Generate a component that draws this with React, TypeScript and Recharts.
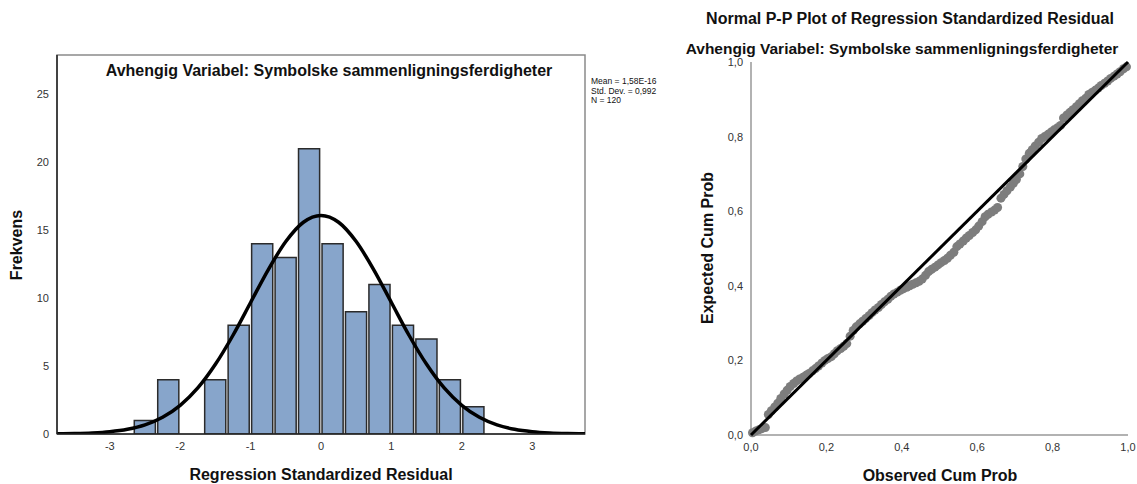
import React from 'react';
import {
    ComposedChart,
    ScatterChart,
    Bar,
    Line,
    Scatter,
    XAxis,
    YAxis,
    ZAxis,
    ReferenceArea
} from 'recharts';

// Histogram of residuals (bin width 1/3)
const binCenters = [-2.5, -2.167, -1.833, -1.5, -1.167, -0.833, -0.5, -0.167, 0.167, 0.5, 0.833, 1.167, 1.5, 1.833, 2.167];
const binCounts = [1, 4, 0, 4, 8, 14, 13, 21, 14, 9, 11, 8, 7, 4, 2];

// Normal curve
const curveX = [-3.75, -3.5, -3.25, -3, -2.75, -2.5, -2.25, -2, -1.75, -1.5, -1.25, -1, -0.75, -0.5, -0.25, 0,
    0.25, 0.5, 0.75, 1, 1.25, 1.5, 1.75, 2, 2.25, 2.5, 2.75, 3, 3.25, 3.5, 3.75];
const curveY = [0.013, 0.032, 0.075, 0.166, 0.345, 0.67, 1.23, 2.11, 3.39, 5.13, 7.27, 9.68, 12.09, 14.17, 15.59, 16.09,
    15.59, 14.17, 12.09, 9.68, 7.27, 5.13, 3.39, 2.11, 1.23, 0.67, 0.345, 0.166, 0.075, 0.032, 0.013];

const histTicksX = [-3, -2, -1, 0, 1, 2, 3];
const histTicksY = [0, 5, 10, 15, 20, 25];

// P-P plot: observed vs expected cumulative probability
const observedCum = [
    0.004, 0.013, 0.021, 0.029, 0.038, 0.046, 0.054, 0.063, 0.071, 0.079,
    0.088, 0.096, 0.104, 0.113, 0.121, 0.129, 0.138, 0.146, 0.154, 0.163,
    0.171, 0.179, 0.188, 0.196, 0.204, 0.213, 0.221, 0.229, 0.238, 0.246,
    0.254, 0.263, 0.271, 0.279, 0.288, 0.296, 0.304, 0.313, 0.321, 0.329,
    0.338, 0.346, 0.354, 0.363, 0.371, 0.379, 0.388, 0.396, 0.404, 0.413,
    0.421, 0.429, 0.438, 0.446, 0.454, 0.463, 0.471, 0.479, 0.488, 0.496,
    0.504, 0.513, 0.521, 0.529, 0.538, 0.546, 0.554, 0.563, 0.571, 0.579,
    0.588, 0.596, 0.604, 0.613, 0.621, 0.629, 0.638, 0.646, 0.654, 0.663,
    0.671, 0.679, 0.688, 0.696, 0.704, 0.713, 0.721, 0.729, 0.738, 0.746,
    0.754, 0.763, 0.771, 0.779, 0.788, 0.796, 0.804, 0.813, 0.821, 0.829,
    0.838, 0.846, 0.854, 0.863, 0.871, 0.879, 0.888, 0.896, 0.904, 0.913,
    0.921, 0.929, 0.938, 0.946, 0.954, 0.963, 0.971, 0.979, 0.988, 0.996
];
const expectedCum = [
    0.006, 0.011, 0.014, 0.017, 0.020, 0.055, 0.065, 0.075, 0.085, 0.098,
    0.110, 0.120, 0.130, 0.138, 0.145, 0.150, 0.155, 0.160, 0.165, 0.172,
    0.178, 0.185, 0.193, 0.200, 0.205, 0.210, 0.218, 0.226, 0.232, 0.238,
    0.245, 0.265, 0.280, 0.290, 0.298, 0.305, 0.312, 0.320, 0.328, 0.335,
    0.342, 0.350, 0.357, 0.364, 0.372, 0.378, 0.383, 0.388, 0.392, 0.396,
    0.400, 0.404, 0.408, 0.412, 0.418, 0.428, 0.438, 0.444, 0.450, 0.456,
    0.462, 0.468, 0.474, 0.482, 0.490, 0.505, 0.512, 0.520, 0.528, 0.535,
    0.543, 0.550, 0.560, 0.572, 0.585, 0.592, 0.598, 0.603, 0.610, 0.635,
    0.645, 0.655, 0.665, 0.675, 0.685, 0.700, 0.720, 0.740, 0.755, 0.765,
    0.775, 0.785, 0.795, 0.800, 0.806, 0.812, 0.818, 0.824, 0.830, 0.850,
    0.858, 0.865, 0.872, 0.880, 0.888, 0.896, 0.903, 0.913, 0.918, 0.924,
    0.930, 0.937, 0.943, 0.949, 0.956, 0.962, 0.968, 0.974, 0.982, 0.987
];
const ppTicks = [0, 0.2, 0.4, 0.6, 0.8, 1];
const diagonal = [0, 1];

const FONT = '"Liberation Sans", Arial, sans-serif';
const X_DOMAIN: [number, number] = [-3.75, 3.75];
const Y_MAX = 27.9;
const LEFT_PLOT_W = 528;
const BIN_W = 1 / 3;

const histData = binCenters.map((x, i) => ({ x, count: binCounts[i] }));
const curveData = curveX.map((x, i) => ({ x, y: curveY[i] }));
const ppData = observedCum.map((x, i) => ({ x, y: expectedCum[i] }));
const diagData = diagonal.map(v => ({ x: v, y: v }));

const tickStyle = { fill: '#333', fontSize: 11, fontFamily: FONT };
const comma = (v: number) => v.toFixed(1).replace('.', ',');

const Txt: React.FC<{ x: number; y: number; size?: number; rotate?: boolean; children: React.ReactNode }> =
    ({ x, y, size = 16, rotate, children }) => (
        <div
            style={{
                position: 'absolute',
                left: x,
                top: y,
                transform: `translate(-50%, -50%)${rotate ? ' rotate(-90deg)' : ''}`,
                whiteSpace: 'nowrap',
                fontSize: size,
                fontWeight: 'bold',
                color: '#111',
                fontFamily: FONT
            }}
        >
            {children}
        </div>
    );

export default function App() {
    const barSize = (LEFT_PLOT_W / (X_DOMAIN[1] - X_DOMAIN[0])) * BIN_W;

    return (
        <div style={{ position: 'absolute', left: 0, top: 0, width: 1137, height: 484, background: '#fff', fontFamily: FONT }}>
            <div style={{ position: 'absolute', left: 0, top: 0 }}>
                <ComposedChart width={600} height={484} data={histData} margin={{ top: 55, right: 15, bottom: 20, left: 0 }}>
                    <XAxis
                        xAxisId="bins"
                        dataKey="x"
                        type="number"
                        domain={X_DOMAIN}
                        ticks={histTicksX}
                        allowDataOverflow
                        height={30}
                        tick={tickStyle}
                        tickLine={false}
                        axisLine={{ stroke: '#222', strokeWidth: 1.5 }}
                    />
                    <XAxis xAxisId="curve" dataKey="x" type="number" domain={X_DOMAIN} allowDataOverflow hide />
                    <YAxis
                        type="number"
                        domain={[0, Y_MAX]}
                        ticks={histTicksY}
                        allowDataOverflow
                        width={57}
                        tick={tickStyle}
                        tickLine={false}
                        axisLine={{ stroke: '#222', strokeWidth: 1.5 }}
                    />
                    <ReferenceArea
                        xAxisId="bins"
                        x1={X_DOMAIN[0]}
                        x2={X_DOMAIN[1]}
                        y1={0}
                        y2={Y_MAX}
                        fill="none"
                        stroke="#8a8a8a"
                        strokeWidth={1.5}
                    />
                    <Bar
                        xAxisId="bins"
                        dataKey="count"
                        barSize={barSize}
                        fill="#87a5cb"
                        stroke="#2b2b2b"
                        strokeWidth={1.5}
                        isAnimationActive={false}
                    />
                    <Line
                        xAxisId="curve"
                        data={curveData}
                        dataKey="y"
                        type="monotone"
                        stroke="#000"
                        strokeWidth={3.5}
                        dot={false}
                        activeDot={false}
                        isAnimationActive={false}
                    />
                </ComposedChart>
            </div>

            <div style={{ position: 'absolute', left: 690, top: 0 }}>
                <ScatterChart width={447} height={484} margin={{ top: 62, right: 9, bottom: 19, left: 0 }}>
                    <XAxis
                        dataKey="x"
                        type="number"
                        domain={[0, 1]}
                        ticks={ppTicks}
                        tickFormatter={comma}
                        height={30}
                        tick={tickStyle}
                        tickLine={false}
                        axisLine={{ stroke: '#999', strokeWidth: 1.5 }}
                    />
                    <YAxis
                        dataKey="y"
                        type="number"
                        domain={[0, 1]}
                        ticks={ppTicks}
                        tickFormatter={comma}
                        width={61}
                        tick={tickStyle}
                        tickLine={false}
                        axisLine={{ stroke: '#999', strokeWidth: 1.5 }}
                    />
                    <ZAxis range={[40, 40]} />
                    <Scatter data={ppData} fill="#7d7d7d" isAnimationActive={false} />
                    <Scatter
                        data={diagData}
                        line={{ stroke: '#000', strokeWidth: 3 }}
                        shape={() => <g />}
                        isAnimationActive={false}
                    />
                </ScatterChart>
            </div>

            <Txt x={329} y={71}>Avhengig Variabel: Symbolske sammenligningsferdigheter</Txt>
            <div
                style={{
                    position: 'absolute',
                    left: 591,
                    top: 77,
                    fontSize: 8.5,
                    lineHeight: '9.5px',
                    color: '#111',
                    fontFamily: FONT,
                    whiteSpace: 'nowrap'
                }}
            >
                <div>Mean = 1,58E-16</div>
                <div>Std. Dev. = 0,992</div>
                <div>N = 120</div>
            </div>
            <Txt x={17} y={245} rotate>Frekvens</Txt>
            <Txt x={321} y={475}>Regression Standardized Residual</Txt>

            <Txt x={910} y={19}>Normal P-P Plot of Regression Standardized Residual</Txt>
            <Txt x={902} y={49} size={15.5}>Avhengig Variabel: Symbolske sammenligningsferdigheter</Txt>
            <Txt x={708} y={248} rotate>Expected Cum Prob</Txt>
            <Txt x={940} y={476}>Observed Cum Prob</Txt>
        </div>
    );
}
